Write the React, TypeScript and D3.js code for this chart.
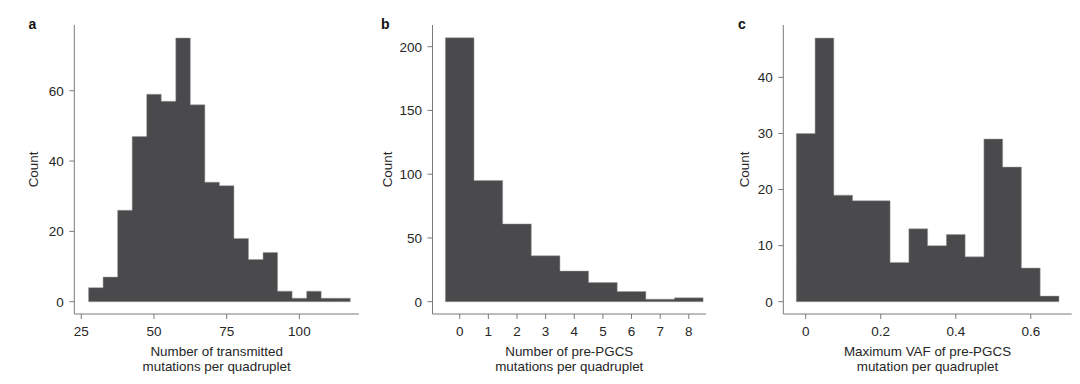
import * as d3 from 'd3';

// panel a: transmitted mutations per quadruplet (bins of 5 starting at 27.5)
const aBinStart = 27.5;
const aBinWidth = 5;
const aCounts = [4, 7, 26, 47, 59, 57, 75, 56, 34, 33, 18, 12, 14, 3, 1, 3, 1, 1];
const aXTicks = [25, 50, 75, 100];
const aYTicks = [0, 20, 40, 60];

// panel b: pre-PGCS mutations per quadruplet (integer bins)
const bBinStart = -0.5;
const bBinWidth = 1;
const bCounts = [207, 95, 61, 36, 24, 15, 8, 2, 3];
const bXTicks = [0, 1, 2, 3, 4, 5, 6, 7, 8];
const bYTicks = [0, 50, 100, 150, 200];

// panel c: maximum VAF of pre-PGCS mutation (bins of 0.05)
const cBinStart = -0.025;
const cBinWidth = 0.05;
const cCounts = [30, 47, 19, 18, 18, 7, 13, 10, 12, 8, 29, 24, 6, 1];
const cXTicks = [0, 0.2, 0.4, 0.6];
const cYTicks = [0, 10, 20, 30, 40];

const FONT = '"Liberation Sans", Arial, Helvetica, sans-serif';
const BAR = '#4a4a4c';
const AXIS = '#7a7a7a';
const TEXT = '#262626';

interface PanelProps {
  letter: string;
  left: number;
  right: number;
  xDomain: [number, number];
  yDomain: [number, number];
  binStart: number;
  binWidth: number;
  counts: number[];
  xTicks: number[];
  yTicks: number[];
  xTitle: string[];
  countX: number;
  letterX: number;
  xFmt?: (v: number) => string;
}

const TOP = 25;
const BOTTOM = 314;

function Panel(p: PanelProps) {
  const x = d3.scaleLinear().domain(p.xDomain).range([p.left, p.right]);
  const y = d3.scaleLinear().domain(p.yDomain).range([BOTTOM, TOP]);
  const xFmt = p.xFmt || ((v: number) => String(v));
  const mid = (p.left + p.right) / 2;

  // histogram outline as one step shape
  const pts: [number, number][] = [];
  p.counts.forEach((c, i) => {
    pts.push([p.binStart + i * p.binWidth, c]);
    pts.push([p.binStart + (i + 1) * p.binWidth, c]);
  });
  const area = d3
    .area<[number, number]>()
    .x((d) => x(d[0]))
    .y0(y(0))
    .y1((d) => y(d[1]));

  return (
    <g>
      <text x={p.letterX} y={28.5} fontFamily={FONT} fontWeight="bold" fontSize={14} fill="#111">
        {p.letter}
      </text>
      <path d={area(pts) || ''} fill={BAR} stroke="#9a9a9a" strokeWidth={0.5} />
      <line x1={p.left} x2={p.left} y1={TOP} y2={BOTTOM} stroke={AXIS} strokeWidth={1} />
      <line x1={p.left} x2={p.right} y1={BOTTOM} y2={BOTTOM} stroke={AXIS} strokeWidth={1} />
      {p.yTicks.map((t) => (
        <g key={'y' + t}>
          <line x1={p.left - 5} x2={p.left} y1={y(t)} y2={y(t)} stroke={AXIS} />
          <text
            x={p.left - 10.5}
            y={y(t)}
            dy="0.36em"
            textAnchor="end"
            fontFamily={FONT}
            fontSize={13.5}
            fill={TEXT}
          >
            {t}
          </text>
        </g>
      ))}
      {p.xTicks.map((t) => (
        <g key={'x' + t}>
          <line x1={x(t)} x2={x(t)} y1={BOTTOM} y2={BOTTOM + 5} stroke={AXIS} />
          <text x={x(t)} y={336} textAnchor="middle" fontFamily={FONT} fontSize={13.5} fill={TEXT}>
            {xFmt(t)}
          </text>
        </g>
      ))}
      {p.xTitle.map((line, i) => (
        <text
          key={line}
          x={mid}
          y={356 + i * 15}
          textAnchor="middle"
          fontFamily={FONT}
          fontSize={13.4}
          fill={TEXT}
        >
          {line}
        </text>
      ))}
      <text
        transform={`translate(${p.countX},${(TOP + BOTTOM) / 2}) rotate(-90)`}
        textAnchor="middle"
        dy="0.36em"
        fontFamily={FONT}
        fontSize={13.4}
        fill={TEXT}
      >
        Count
      </text>
    </g>
  );
}

export default function App() {
  return (
    <div style={{ position: 'fixed', left: 0, top: 0 }}>
      <svg width={1080} height={384} style={{ display: 'block', background: '#fff' }}>
        <Panel
          letter="a"
          letterX={28.5}
          left={74.3}
          right={359}
          xDomain={[22.6, 120.5]}
          yDomain={[-3.5, 78.7]}
          binStart={aBinStart}
          binWidth={aBinWidth}
          counts={aCounts}
          xTicks={aXTicks}
          yTicks={aYTicks}
          xTitle={['Number of transmitted', 'mutations per quadruplet']}
          countX={33}
        />
        <Panel
          letter="b"
          letterX={381}
          left={432.5}
          right={706}
          xDomain={[-0.95, 8.6]}
          yDomain={[-9.65, 217]}
          binStart={bBinStart}
          binWidth={bBinWidth}
          counts={bCounts}
          xTicks={bXTicks}
          yTicks={bYTicks}
          xTitle={['Number of pre-PGCS', 'mutations per quadruplet']}
          countX={387}
        />
        <Panel
          letter="c"
          letterX={738}
          left={783.3}
          right={1071.7}
          xDomain={[-0.0597, 0.709]}
          yDomain={[-2.19, 49.34]}
          binStart={cBinStart}
          binWidth={cBinWidth}
          counts={cCounts}
          xTicks={cXTicks}
          yTicks={cYTicks}
          xTitle={['Maximum VAF of pre-PGCS', 'mutation per quadruplet']}
          countX={744}
          xFmt={(v) => (v === 0 ? '0' : d3.format('.1f')(v))}
        />
      </svg>
    </div>
  );
}
